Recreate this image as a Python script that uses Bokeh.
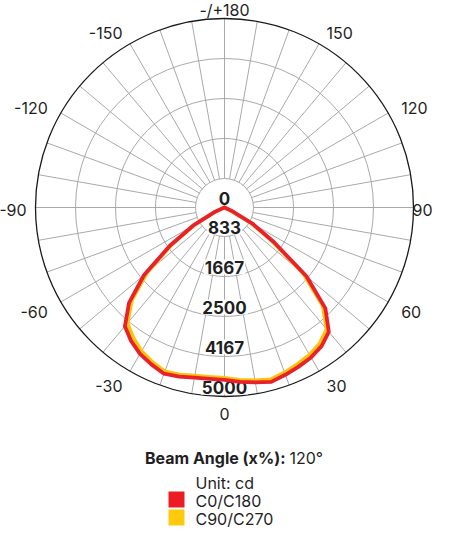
import math
from bokeh.plotting import figure
from bokeh.models import Range1d
from bokeh.core.properties import value
from bokeh.embed import file_html
from bokeh.resources import INLINE

# ---------------- data ----------------
angles = [-90, -85, -80, -75, -70, -65, -60, -55, -50, -45, -40, -35, -30, -25, -20, -15, -10, -5,
          0, 5, 10, 15, 20, 25, 30, 35, 40, 45, 50, 55, 60, 65, 70, 75, 80, 85, 90]
c0_c180 = [0, 0, 0, 0, 30, 317, 963, 1765, 2778, 3571, 4100, 4310, 4470, 4580, 4680, 4630, 4570, 4550,
           4560, 4630, 4700, 4775, 4710, 4645, 4579, 4476, 4293, 3775, 2831, 1592, 862, 198, 0, 0, 0, 0, 0]
c90_c270 = [0, 0, 0, 0, 20, 290, 925, 1690, 2670, 3465, 3995, 4205, 4390, 4510, 4615, 4575, 4515, 4500,
            4510, 4575, 4645, 4710, 4645, 4570, 4500, 4390, 4205, 3675, 2725, 1510, 795, 160, 0, 0, 0, 0, 0]
series_names = ["C0/C180", "C90/C270"]
series_colors = ["#e8212a", "#ffc20e"]
legend_colors = ["#ec1c24", "#ffc90e"]

ring_labels = ["0", "833", "1667", "2500", "4167", "5000"]
angle_tick_values = [0, 30, 60, 90, 120, 150, 180, -150, -120, -90, -60, -30]
angle_tick_labels = ["0", "30", "60", "90", "120", "150", "-/+180", "-150", "-120", "-90", "-60", "-30"]
beam_label = "Beam Angle (x%):"
beam_value = "120°"
unit_label = "Unit: cd"

# ---------------- layout ----------------
CX, CY = 232, 215          # page position of polar centre
R = 189                    # outer ring radius (px)
VMAX = 5000
K = R / VMAX
ring_radii = [0, 29, 69, 109, 149, 189]
INNER = ring_radii[1]

W, H = 433, 530
XMAX = 8 + W - CX
p = figure(width=W, height=H, output_backend="svg", toolbar_location=None,
           x_range=Range1d(8 - CX, XMAX), y_range=Range1d(CY - 8 - H, CY - 8),
           min_border=0, outline_line_color=None)
p.axis.visible = False
p.grid.visible = False
p.background_fill_color = "white"
p.border_fill_color = "white"

FONT = value("Inter")
TXT = "#1f1f1f"
GRID = "#a9a9a9"

def px(ang_deg, r):
    a = math.radians(ang_deg)
    return r * math.sin(a), -r * math.cos(a)

# rings
p.circle(x=[0] * 4, y=[0] * 4, radius=ring_radii[1:5], fill_color=None,
         line_color=GRID, line_width=1)
# spokes
spokes = list(range(0, 360, 10))
x0 = [px(a, INNER)[0] for a in spokes]
y0 = [px(a, INNER)[1] for a in spokes]
x1 = [px(a, R)[0] for a in spokes]
y1 = [px(a, R)[1] for a in spokes]
p.segment(x0=x0, y0=y0, x1=x1, y1=y1, line_color=GRID, line_width=1)
# outer ring
p.circle(x=[0], y=[0], radius=[R], fill_color=None, line_color="#1a1a1a", line_width=1.3)

# ring labels
p.text(x=[0] * len(ring_labels), y=[-r + 9.5 for r in ring_radii], text=ring_labels,
       text_align="center", text_baseline="middle", text_font=FONT, text_font_style="bold",
       text_font_size="17px", text_color=TXT, background_fill_color="white", padding=1)

# angle labels
lx, ly, la = [], [], []
for a in angle_tick_values:
    r = 204
    if a == 180:
        r = 198
    if a == -90:
        r = 198
    x, y = px(a, r)
    if a != 180:
        y -= 2
    if a == 90:
        x = XMAX - 1
        la.append("right")
    elif a in (0, 180):
        la.append("center")
    elif a < 0:
        la.append("right")
    else:
        la.append("left")
    lx.append(x)
    ly.append(y)
for align in ("left", "right", "center"):
    idx = [i for i in range(len(la)) if la[i] == align]
    p.text(x=[lx[i] for i in idx], y=[ly[i] for i in idx],
           text=[angle_tick_labels[i] for i in idx], text_align=align, text_baseline="middle",
           text_font=FONT, text_font_size="16px", text_color=TXT)

# curves (yellow under, red on top)
for vals, col in ((c90_c270, series_colors[1]), (c0_c180, series_colors[0])):
    xs = [px(a, v * K)[0] for a, v in zip(angles, vals)]
    ys = [px(a, v * K)[1] for a, v in zip(angles, vals)]
    p.line(xs, ys, line_color=col, line_width=3.8, line_join="round", line_cap="round")

# beam angle text
p.text(x=[293 - CX], y=[CY - 465], text=[beam_label], text_align="right", text_baseline="middle",
       text_font=FONT, text_font_style="bold", text_font_size="16px", text_color=TXT)
p.text(x=[297 - CX], y=[CY - 465], text=[beam_value], text_align="left", text_baseline="middle",
       text_font=FONT, text_font_size="16px", text_color=TXT)

# legend
p.text(x=[203 - CX], y=[CY - 490], text=[unit_label], text_align="left", text_baseline="middle",
       text_font=FONT, text_font_size="16px", text_color=TXT)
leg_y = [508, 526]
p.rect(x=[184 - CX] * 2, y=[CY - yy + 1 for yy in leg_y], width=16, height=16,
       fill_color=legend_colors, line_color=None)
p.text(x=[203 - CX] * 2, y=[CY - yy for yy in leg_y], text=series_names, text_align="left",
       text_baseline="middle", text_font=FONT, text_font_size="16px", text_color=TXT)

open("out.html", "w").write(file_html(p, INLINE))
